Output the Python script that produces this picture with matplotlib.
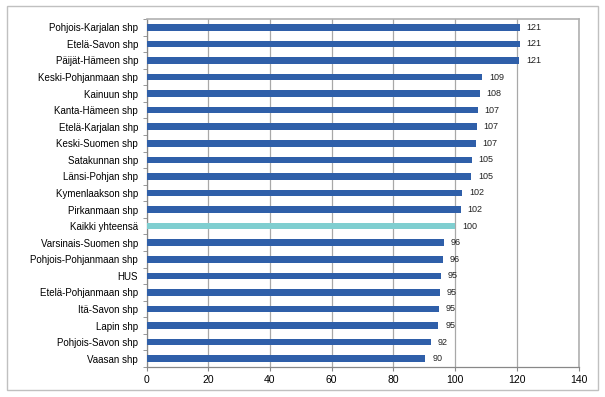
import matplotlib.pyplot as plt
import numpy as np
from matplotlib.patches import Rectangle

plt.rcParams['font.family'] = ['Liberation Sans', 'DejaVu Sans']

regions = ['Pohjois-Karjalan shp', 'Etelä-Savon shp', 'Päijät-Hämeen shp',
           'Keski-Pohjanmaan shp', 'Kainuun shp', 'Kanta-Hämeen shp',
           'Etelä-Karjalan shp', 'Keski-Suomen shp', 'Satakunnan shp',
           'Länsi-Pohjan shp', 'Kymenlaakson shp', 'Pirkanmaan shp',
           'Kaikki yhteensä', 'Varsinais-Suomen shp', 'Pohjois-Pohjanmaan shp',
           'HUS', 'Etelä-Pohjanmaan shp', 'Itä-Savon shp', 'Lapin shp',
           'Pohjois-Savon shp', 'Vaasan shp']
values = [121.0, 120.9, 120.8, 108.8, 108.0, 107.4, 107.0, 106.7, 105.4,
          105.2, 102.3, 101.8, 100.0, 96.3, 96.0, 95.4, 95.1, 94.8, 94.6,
          92.3, 90.4]
labels = [121, 121, 121, 109, 108, 107, 107, 107, 105, 105, 102, 102, 100,
          96, 96, 95, 95, 95, 95, 92, 90]
xticks = [0, 20, 40, 60, 80, 100, 120, 140]

blue = '#2F5FA9'
cyan = '#7FCED0'
colors = [cyan if r == 'Kaikki yhteensä' else blue for r in regions]

fig = plt.figure(figsize=(6.05, 3.97), dpi=100)
ax = fig.add_axes([146.5 / 605, 1 - 367 / 397, (578.5 - 146.5) / 605, (367 - 19) / 397])

y = np.arange(len(regions))
ax.barh(y, values, height=0.4, color=colors, zorder=3)
for yi, v, lab in zip(y, values, labels):
    ax.text(v + 2.2, yi, str(lab), va='center', ha='left', fontsize=6.5, color='#222222')

ax.set_ylim(len(regions) - 0.5, -0.5)
ax.set_xlim(0, 140)
ax.set_xticks(xticks)
ax.set_xticklabels([str(t) for t in xticks], fontsize=7.5)
ax.set_yticks(y)
ax.set_yticklabels(regions, fontsize=7)
ax.set_yticks(np.arange(len(regions) + 1) - 0.5, minor=True)
ax.tick_params(axis='y', which='major', length=0, pad=6)
ax.tick_params(axis='y', which='minor', length=3, color='#888888')
ax.tick_params(axis='x', length=3, color='#888888', pad=3)
ax.grid(axis='x', color='#a8a8a8', linewidth=0.9, zorder=0)

for s in ['top', 'right']:
    ax.spines[s].set_color('#b0b0b0')
    ax.spines[s].set_linewidth(1.2)
for s in ['left', 'bottom']:
    ax.spines[s].set_color('#888888')
    ax.spines[s].set_linewidth(0.9)

fig.patches.append(Rectangle((7 / 605, 1 - 390 / 397), 591 / 605, 384 / 397,
                             transform=fig.transFigure, fill=False,
                             edgecolor='#c0c0c0', linewidth=1.0))

plt.savefig('out.png', dpi=100)
